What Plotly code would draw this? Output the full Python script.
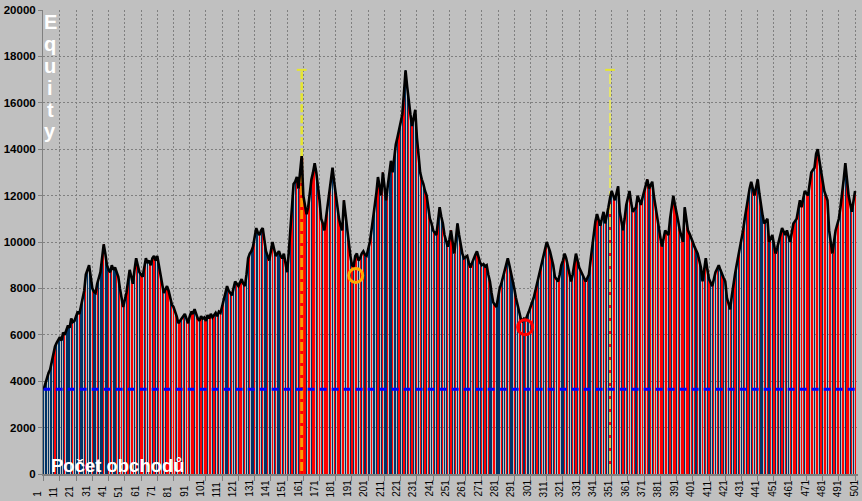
import plotly.graph_objects as go

# ---------------- data ----------------
trade_no = list(range(1, 502))

equity = [
    3650, 3900, 4200, 4350, 4500, 4850, 5200, 5500, 5650, 5800,
    5900, 5750, 6100, 6000, 6250, 6400, 6300, 6700, 6550, 6600,
    6800, 7000, 6900, 7200, 7500, 7900, 8600, 8800, 9000, 8500,
    8000, 7850, 7800, 8200, 8450, 8700, 9300, 9900, 9500, 9000,
    8800, 8700, 9000, 8800, 8900, 8700, 8500, 8000, 7600, 7200,
    7500, 7800, 8300, 8800, 8500, 8200, 8800, 9300, 9000, 8700,
    8600, 8500, 8900, 9300, 9100, 9200, 9000, 9300, 9400, 9200,
    9400, 9000, 8600, 8200, 7800, 7950, 8100, 7900, 7600, 7300,
    7200, 7000, 6800, 6500, 6600, 6700, 6800, 6900, 6700, 6500,
    6800, 7000, 6900, 7100, 6900, 6700, 6600, 6800, 6700, 6750,
    6600, 6850, 6700, 6900, 6750, 6850, 6950, 6800, 7000, 6950,
    7200, 7500, 7800, 8100, 7900, 7800, 7700, 8000, 8300, 8200,
    8100, 8250, 8400, 8200, 8100, 8600, 9300, 9500, 9600, 9800,
    10200, 10600, 10400, 10300, 10500, 10600, 10100, 9600, 9400, 9200,
    9600, 10000, 9700, 9400, 9500, 9600, 9400, 9300, 9500, 9100,
    8700, 9500, 10500, 11500, 12500, 12600, 12800, 12300, 12900, 13700,
    12000, 11600, 11200, 11500, 12100, 12700, 13000, 13400, 13000, 12500,
    11800, 11000, 10800, 10500, 11000, 11500, 12000, 12500, 13200, 12600,
    12000, 11500, 11000, 10700, 10500, 11800, 11200, 10500, 10000, 9400,
    9000, 8950, 9400, 9500, 9200, 9300, 9500, 9600, 9450, 9400,
    9700, 10000, 10500, 11000, 11500, 12100, 12800, 12400, 12000, 13000,
    12400, 11800, 12400, 13000, 13500, 13000, 13600, 14200, 14500, 14800,
    15100, 15500, 16400, 17400, 16700, 16000, 15500, 15000, 15300, 15700,
    14500, 13800, 13000, 12700, 12500, 12200, 12000, 11500, 11000, 10800,
    10500, 10400, 10300, 10900, 11500, 11100, 10800, 10300, 10000, 9800,
    10100, 10500, 10000, 9500, 10100, 10800, 10300, 9800, 9500, 9300,
    9350, 9400, 9100, 8900, 9100, 9300, 9450, 9600, 9350, 9100,
    9000, 9050, 8950, 9000, 8600, 8300, 7800, 7400, 7300, 7200,
    7600, 8000, 8200, 8500, 8800, 9000, 9300, 9000, 8700, 8400,
    8000, 7600, 7300, 7000, 6700, 6600, 6700, 6650, 6800, 7000,
    7200, 7400, 7600, 7900, 8200, 8500, 8700, 9000, 9400, 9700,
    10000, 9800, 9600, 9300, 9000, 8500, 8400, 8300, 8600, 9000,
    9200, 9500, 9300, 9000, 8600, 8300, 8600, 9000, 9500, 9200,
    8900, 8750, 8600, 8450, 8300, 8450, 8600, 9200, 9800, 10500,
    10900, 11200, 10900, 10700, 11000, 11300, 10800, 11100, 11500, 11900,
    12200, 12000, 11800, 12100, 12400, 11300, 10900, 10500, 11000, 11600,
    11900, 12200, 11700, 11300, 11400, 11500, 12000, 11800, 11600, 11900,
    12200, 12450, 12700, 12300, 12450, 12600, 12000, 11500, 11000, 10600,
    10200, 9800, 10100, 10500, 10400, 10300, 11000, 11500, 12000, 11600,
    11300, 10900, 10500, 10200, 10000, 11500, 11000, 10500, 10350, 10200,
    10000, 9800, 9650, 9500, 9200, 8900, 8300, 8800, 9300, 8800,
    8400, 8250, 8100, 8400, 8700, 8850, 9000, 8800, 8600, 8450,
    8300, 7600, 7350, 7100, 7650, 8200, 8600, 9000, 9350, 9700,
    10100, 10500, 11000, 11500, 11900, 12300, 12600, 12300, 12000, 12350,
    12700, 12100, 11500, 11150, 10800, 10900, 11000, 10000, 10150, 10300,
    9900, 9500, 9750, 10000, 10300, 10600, 10450, 10300, 10500, 10250,
    10000, 10400, 10800, 10900, 11000, 11400, 11800, 11500, 11850, 12200,
    12100, 12000, 12500, 13000, 13100, 13200, 13800, 14000, 13500, 13000,
    12600, 12200, 12000, 11800, 10500, 10000, 9500, 10000, 10500, 10750,
    11000, 11500, 12000, 12700, 13400, 12700, 12000, 11650, 11300, 11750,
    12200,
]

# trade type per bar: b = blue, r = red
trade_type = "".join([
    "bbbbbbbrbb", "bbbrbbbbrb", "bbrbbbrbbb", "rbbrbbbrbb", "rbrbbrbrrb",
    "rbrbrrbrbb", "rrbrbrrbrb", "brrbrbrrbr", "rrbrrbrbrr", "brrbrrbrbr",
    "rbrrbrbrbr", "brbbrbrbbr", "brrbrbbrbb", "rbbrbrbbrb", "brbrbbrbrb",
    "rbbrbbrbrr", "rrbrrbrrbr", "rrbrrrbrbr", "brrbrrbrrb", "rbrrbrbrbr",
    "bbrbbbrbbr", "bbrbbrbbbr", "bbrbbrbrbb", "rbrbbrbrbb", "rbbrbbrbbr",
    "brbbrbrbbr", "bbrbrbbrbb", "rbrbrbbrrb", "bbrbbrbrbb", "rbbrbrbrbb",
    "brbbrbbrbb", "rbrbbrbrrb", "brbrbbrbrb", "rbbrbrbbrb", "brbbrbrbbr",
    "brrbbrbrbr", "brbrrbrbrr", "brrbrbrrbr", "rrbrrbrbrr", "brbrrbrrbr",
    "brbrbbrbrb", "rbbrbrbbrb", "brbrbbrbbr", "bbrbrbbrbr", "brbbrbrbrb",
    "rbrbbrbrbb", "rbrrbrbrrb", "rrbrrbrrbr", "brrbrrbrbr", "rbrrbrrbrb",
    "r",
])

x_tick_vals = list(range(1, 502, 10))
y_tick_vals = list(range(0, 20001, 2000))

base_level = 3650            # blue dashed level
marker_trade_1 = 160         # yellow / orange vertical marker
marker_trade_2 = 350         # light yellow vertical marker
marker_top = 17420           # top of the vertical markers
circle_orange = (193.3, 8560)
circle_red = (297.7, 6330)

# ---------------- styling ----------------
BG = "#c0c0c0"
GRID = "#808080"
BLUE_BAR = "#003366"
RED_BAR = "#ff0000"
FONT = "Arial, Liberation Sans, sans-serif"

bar_colors = [BLUE_BAR if c == "b" else RED_BAR for c in trade_type]

fig = go.Figure()

# very thin bars: plotly expands them to whole pixels, leaving grey gaps between trades
fig.add_trace(go.Bar(
    x=trade_no, y=equity, width=0.1,
    marker=dict(color=bar_colors, line=dict(width=0)),
    hoverinfo="skip", showlegend=False,
))

eq1 = equity[trade_no.index(marker_trade_1)]

# marker line 1: orange with red dashes below the curve, yellow dashed above
fig.add_trace(go.Scatter(x=[marker_trade_1, marker_trade_1], y=[0, eq1], mode="lines",
                         line=dict(color="#ff9900", width=3), showlegend=False, hoverinfo="skip"))
fig.add_trace(go.Scatter(x=[marker_trade_1, marker_trade_1], y=[0, eq1], mode="lines",
                         line=dict(color="#ff0000", width=3, dash="3px,9px"), showlegend=False, hoverinfo="skip"))
fig.add_trace(go.Scatter(x=[marker_trade_1, marker_trade_1], y=[eq1, marker_top], mode="lines",
                         line=dict(color="#e6e62e", width=2.5, dash="8px,3px"), showlegend=False, hoverinfo="skip"))
# marker line 2
fig.add_trace(go.Scatter(x=[marker_trade_2, marker_trade_2], y=[0, marker_top], mode="lines",
                         line=dict(color="#eeee55", width=1.6, dash="10px,3px"), showlegend=False, hoverinfo="skip"))
# caps
fig.add_trace(go.Scatter(x=[marker_trade_1, marker_trade_2], y=[marker_top, marker_top], mode="markers",
                         marker=dict(symbol="line-ew", size=7, color="#e6e62e", line=dict(color="#e6e62e", width=2)),
                         showlegend=False, hoverinfo="skip"))

# equity curve
fig.add_trace(go.Scatter(x=trade_no, y=equity, mode="lines",
                         line=dict(color="black", width=2.6), showlegend=False, hoverinfo="skip"))

# base level
fig.add_trace(go.Scatter(x=[trade_no[0], trade_no[-1]], y=[base_level, base_level], mode="lines",
                         line=dict(color="#0000ff", width=3, dash="7px,5px"), showlegend=False, hoverinfo="skip"))

# circles
fig.add_trace(go.Scatter(x=[circle_orange[0]], y=[circle_orange[1]], mode="markers",
                         marker=dict(symbol="circle-open", size=14, color="#ffaa00",
                                     line=dict(color="#ffaa00", width=3)),
                         showlegend=False, hoverinfo="skip"))
fig.add_trace(go.Scatter(x=[circle_red[0]], y=[circle_red[1]], mode="markers",
                         marker=dict(symbol="circle-open", size=15, color="#ff0000",
                                     line=dict(color="#ff0000", width=3)),
                         showlegend=False, hoverinfo="skip"))

annotations = []
# x tick labels (rotated, bottom aligned)
n = len(x_tick_vals)
for k, v in enumerate(x_tick_vals):
    annotations.append(dict(
        x=v, y=0, xref="x", yref="paper", text=str(v), textangle=-90,
        showarrow=False, xanchor="center", yanchor="bottom",
        xshift=-7 + 6.0 * k / (n - 1), yshift=-25,
        font=dict(family=FONT, size=10, color="black"),
    ))

# vertical "Equity"
PLOT_TOP, PLOT_BOTTOM, PLOT_LEFT, PLOT_W = 8, 474, 43, 815
def py(pix):
    return (PLOT_BOTTOM - pix) / (PLOT_BOTTOM - PLOT_TOP)
def px(pix):
    return (pix - PLOT_LEFT) / PLOT_W

for k, ch in enumerate("Equity"):
    annotations.append(dict(
        x=px(50), y=py(20 + 22 * k), xref="paper", yref="paper", text="<b>%s</b>" % ch,
        showarrow=False, xanchor="center", yanchor="middle",
        font=dict(family=FONT, size=20, color="white"),
    ))

annotations.append(dict(
    x=px(117.5), y=py(465.5), xref="paper", yref="paper", text="<b>Počet obchodů</b>",
    showarrow=False, xanchor="center", yanchor="middle",
    font=dict(family=FONT, size=18.5, color="white"),
))

fig.update_layout(
    width=862, height=501,
    margin=dict(l=43, r=4, t=8, b=27, pad=0),
    paper_bgcolor=BG, plot_bgcolor=BG,
    bargap=0, showlegend=False,
    annotations=annotations,
    xaxis=dict(
        range=[0.6, 502.8], tickvals=x_tick_vals, showticklabels=False,
        ticks="outside", ticklen=5, tickcolor=GRID, tickwidth=1,
        showgrid=True, gridcolor=GRID, gridwidth=1, griddash="2px,2px",
        showline=True, linecolor=GRID, linewidth=2, zeroline=False,
    ),
    yaxis=dict(
        range=[0, 20000], tickvals=y_tick_vals, tickformat="d",
        ticks="outside", ticklen=4, tickcolor=GRID, tickwidth=1,
        tickfont=dict(family=FONT, size=11.5, color="black", weight="bold"),
        showgrid=True, gridcolor=GRID, gridwidth=1, griddash="2px,2px",
        showline=True, linecolor=GRID, linewidth=1, zeroline=False,
    ),
)

fig.write_html("out.html")
